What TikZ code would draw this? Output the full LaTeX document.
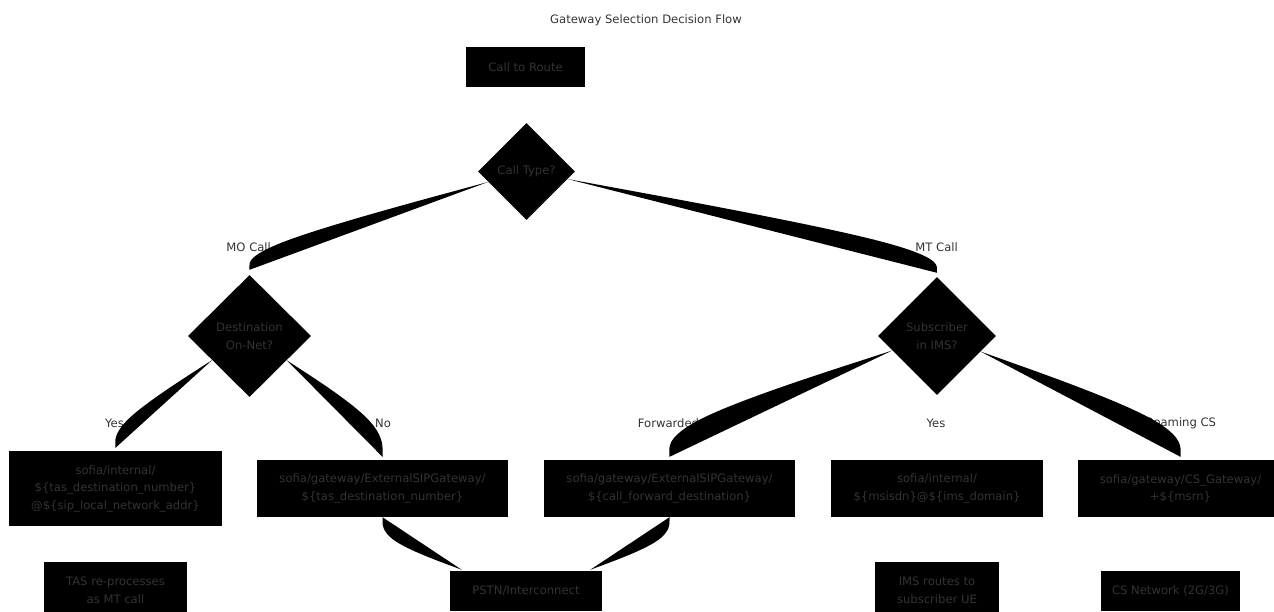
\documentclass[tikz,border=0pt]{standalone}
\usepackage{fontspec}
\setmainfont{DejaVu Sans}
\usetikzlibrary{shapes.geometric,calc}
\definecolor{txt}{HTML}{333333}
% basis-spline edge through three points, filled (closed by its chord)
\newcommand{\edgebasis}[3]{%
  \coordinate (bmid) at ($(#1)!0.5!(#3)$);
  \fill[edgefill] (#1) -- ($(#1)!1/6!(#2)$)
    .. controls ($(#1)!1/3!(#2)$) and ($(#1)!2/3!(#2)$) .. ($(#2)!1/3!(bmid)$)
    .. controls ($(#2)!1/3!(#3)$) and ($(#2)!2/3!(#3)$) .. ($(#2)!5/6!(#3)$)
    -- (#3) -- cycle;}
\begin{document}
\begin{tikzpicture}[x=1pt,y=-1pt,
  txtfont/.style={font=\fontsize{11.6}{17.5}\selectfont},
  box/.style={rectangle,fill=black,text=txt,align=center,inner sep=0pt,txtfont},
  dia/.style={diamond,aspect=1,fill=black,text=txt,align=center,inner sep=0pt,txtfont},
  lbl/.style={text=txt,inner sep=0pt,txtfont},
  edgefill/.style={fill=black}]
\useasboundingbox (0,0) rectangle (1274,611);
\clip (0,0) rectangle (1274,611);

% title
\node[lbl] (title) at (646,20) {Gateway Selection Decision Flow};

% nodes
\node[box,minimum width=119pt,minimum height=40pt] (start) at (525.5,67) {Call to Route};
\node[dia,minimum width=97pt,minimum height=97pt] (calltype) at (526.5,171.5) {Call Type?};
\node[dia,minimum width=123pt,minimum height=122pt] (dest) at (249.5,336) {Destination\\On-Net?};
\node[dia,minimum width=118pt,minimum height=118pt] (subs) at (937,336) {Subscriber\\in IMS?};

\node[box,minimum width=213pt,minimum height=75pt] (intl) at (115.5,488.5)
  {sofia/internal/\\\$\{tas\_destination\_number\}\\@\$\{sip\_local\_network\_addr\}};
\node[box,minimum width=251pt,minimum height=57pt] (exttas) at (382.5,488.5)
  {sofia/gateway/ExternalSIPGateway/\\\$\{tas\_destination\_number\}};
\node[box,minimum width=251pt,minimum height=57pt] (extfwd) at (669.5,488.5)
  {sofia/gateway/ExternalSIPGateway/\\\$\{call\_forward\_destination\}};
\node[box,minimum width=212pt,minimum height=57pt] (msisdn) at (937,488.5)
  {sofia/internal/\\\$\{msisdn\}@\$\{ims\_domain\}};
\node[box,minimum width=205pt,minimum height=57pt] (csgw) at (1180.5,488.5)
  {sofia/gateway/CS\_Gateway/\\+\$\{msrn\}};

\node[box,minimum width=143pt,minimum height=57pt] (tas) at (115.5,590.5) {TAS re-processes\\as MT call};
\node[box,minimum width=152pt,minimum height=40pt] (pstn) at (526,591) {PSTN/Interconnect};
\node[box,minimum width=124pt,minimum height=57pt] (ims) at (937,590.5) {IMS routes to\\subscriber UE};
\node[box,minimum width=139pt,minimum height=40pt] (csnet) at (1170.5,591) {CS Network (2G/3G)};

% edge labels
\node[lbl] (lMO) at (248.7,247) {MO Call};
\node[lbl] (lMT) at (936.6,247) {MT Call};
\node[lbl] (lY1) at (114.5,423) {Yes};
\node[lbl] (lNo) at (383,423) {No};
\node[lbl] (lFwd) at (668.5,423) {Forwarded};
\node[lbl] (lY2) at (936,423) {Yes};
\node[lbl] (lRoam) at (1181,423) {Roaming CS};

% edge end points
\path (calltype) -- coordinate[pos=0] (moA) (lMO.center);
\path (calltype) -- coordinate[pos=0] (mtA) (lMT.center);
\path (dest) -- coordinate[pos=0] (y1A) (lY1.center);
\path (dest) -- coordinate[pos=0] (noA) (lNo.center);
\path (subs) -- coordinate[pos=0] (fwA) (lFwd.center);
\path (subs) -- coordinate[pos=0] (roA) (lRoam.center);
\coordinate (moB) at ([yshift=5pt]dest.north);
\coordinate (mtB) at ([yshift=4pt]subs.north);
\coordinate (y1B) at ([yshift=3pt]intl.north);
\coordinate (noB) at ([yshift=3pt]exttas.north);
\coordinate (fwB) at ([yshift=3pt]extfwd.north);
\coordinate (roB) at ([yshift=3pt]csgw.north);
\coordinate (plA) at (exttas.south);
\coordinate (plM) at ([yshift=-23pt]exttas.south);
\coordinate (plB) at ([xshift=12pt,yshift=1pt]pstn.north west);
\coordinate (prA) at (extfwd.south);
\coordinate (prM) at ([yshift=-23pt]extfwd.south);
\coordinate (prB) at ([xshift=-12pt,yshift=1pt]pstn.north east);

% edges (filled basis curves)
\edgebasis{moA}{lMO.center}{moB}
\edgebasis{mtA}{lMT.center}{mtB}
\edgebasis{y1A}{lY1.center}{y1B}
\edgebasis{noA}{lNo.center}{noB}
\edgebasis{fwA}{lFwd.center}{fwB}
\edgebasis{roA}{lRoam.center}{roB}
\edgebasis{plA}{plM}{plB}
\edgebasis{prA}{prM}{prB}
\end{tikzpicture}
\end{document}
